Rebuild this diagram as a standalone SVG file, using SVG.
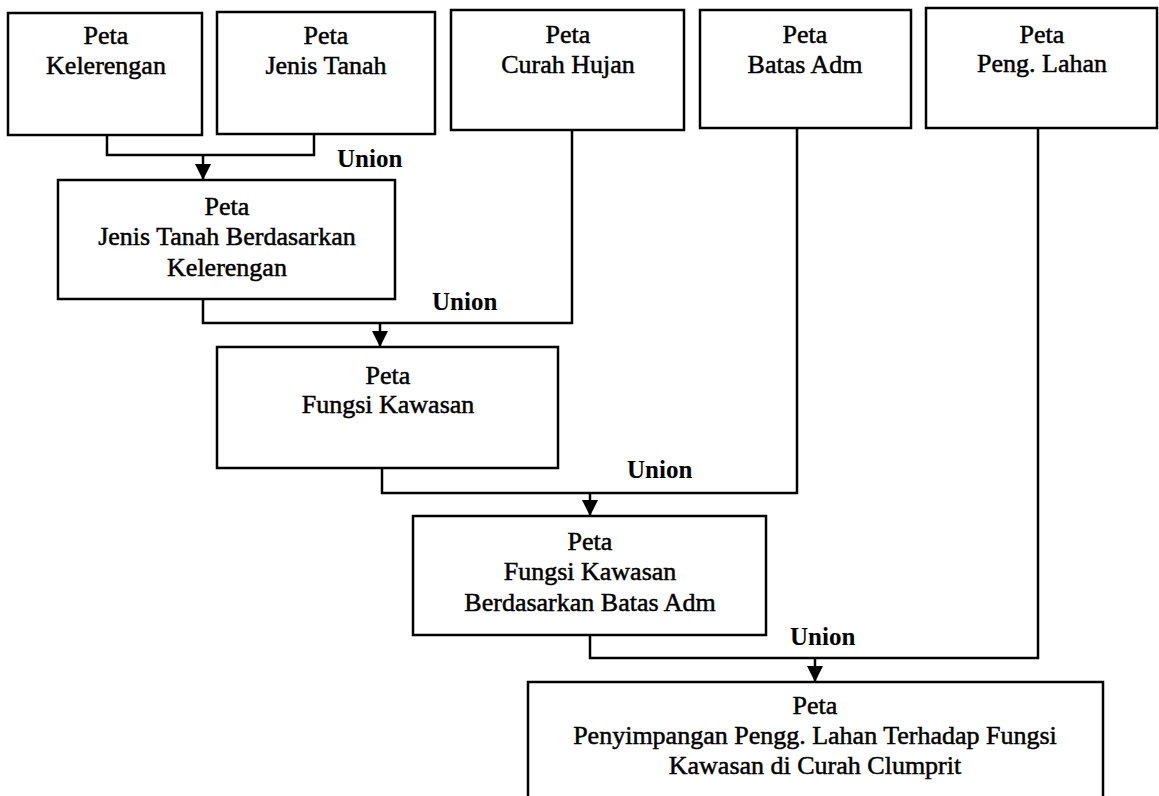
<svg xmlns="http://www.w3.org/2000/svg" width="1159" height="796" viewBox="0 0 1159 796">
<style>
.box{fill:#fff;stroke:#000;stroke-width:2.5}
.t{font-family:"Liberation Serif","Times New Roman",serif;font-size:26px;fill:#000;stroke:#000;stroke-width:0.5;text-anchor:middle}
.u{font-family:"Liberation Serif","Times New Roman",serif;font-size:25px;font-weight:bold;fill:#000}
.c{fill:none;stroke:#000;stroke-width:2.5}
</style>
<defs>
<marker id="ah" viewBox="0 0 16 16" refX="16" refY="8" markerWidth="16" markerHeight="16" markerUnits="userSpaceOnUse" orient="auto">
<path d="M0,0 L16,8 L0,16 Z" fill="#000"/>
</marker>
</defs>
<rect width="1159" height="796" fill="#fff"/>
<g id="connectors">
<path class="c" d="M107,135 V155 H314 V134"/>
<path class="c" d="M203,155 V180" marker-end="url(#ah)"/>
<path class="c" d="M203,299 V323 H572 V130"/>
<path class="c" d="M380,323 V347" marker-end="url(#ah)"/>
<path class="c" d="M382,468 V493 H797 V128"/>
<path class="c" d="M590,493 V516" marker-end="url(#ah)"/>
<path class="c" d="M590,635 V658 H1038 V128"/>
<path class="c" d="M815,658 V682" marker-end="url(#ah)"/>
<text class="u" x="337" y="167">Union</text>
<text class="u" x="432" y="310">Union</text>
<text class="u" x="627" y="478">Union</text>
<text class="u" x="790" y="645">Union</text>
</g>
<g id="kelerengan">
<rect class="box" x="8" y="13" width="194" height="122"/>
<text class="t" x="106" y="44">Peta</text>
<text class="t" x="106" y="74">Kelerengan</text>
</g>
<g id="jenis-tanah">
<rect class="box" x="217" y="12" width="218" height="122"/>
<text class="t" x="326" y="44">Peta</text>
<text class="t" x="326" y="74">Jenis Tanah</text>
</g>
<g id="curah-hujan">
<rect class="box" x="451" y="10" width="233" height="120"/>
<text class="t" x="568" y="43">Peta</text>
<text class="t" x="568" y="73">Curah Hujan</text>
</g>
<g id="batas-adm">
<rect class="box" x="700" y="10" width="211" height="118"/>
<text class="t" x="805" y="43">Peta</text>
<text class="t" x="805" y="73">Batas Adm</text>
</g>
<g id="peng-lahan">
<rect class="box" x="926" y="8" width="231" height="120"/>
<text class="t" x="1042" y="43">Peta</text>
<text class="t" x="1042" y="72">Peng. Lahan</text>
</g>
<g id="jenis-tanah-kelerengan">
<rect class="box" x="58" y="180" width="337" height="119"/>
<text class="t" x="227" y="215">Peta</text>
<text class="t" x="227" y="245">Jenis Tanah Berdasarkan</text>
<text class="t" x="227" y="276">Kelerengan</text>
</g>
<g id="fungsi-kawasan">
<rect class="box" x="217" y="347" width="341" height="121"/>
<text class="t" x="388" y="384">Peta</text>
<text class="t" x="388" y="413">Fungsi Kawasan</text>
</g>
<g id="fungsi-kawasan-batas-adm">
<rect class="box" x="413" y="516" width="353" height="119"/>
<text class="t" x="590" y="550">Peta</text>
<text class="t" x="590" y="580">Fungsi Kawasan</text>
<text class="t" x="590" y="611">Berdasarkan Batas Adm</text>
</g>
<g id="penyimpangan">
<rect class="box" x="528" y="682" width="575" height="130"/>
<text class="t" x="815" y="714">Peta</text>
<text class="t" x="815" y="744">Penyimpangan Pengg. Lahan Terhadap Fungsi</text>
<text class="t" x="815" y="774">Kawasan di Curah Clumprit</text>
</g>
</svg>
